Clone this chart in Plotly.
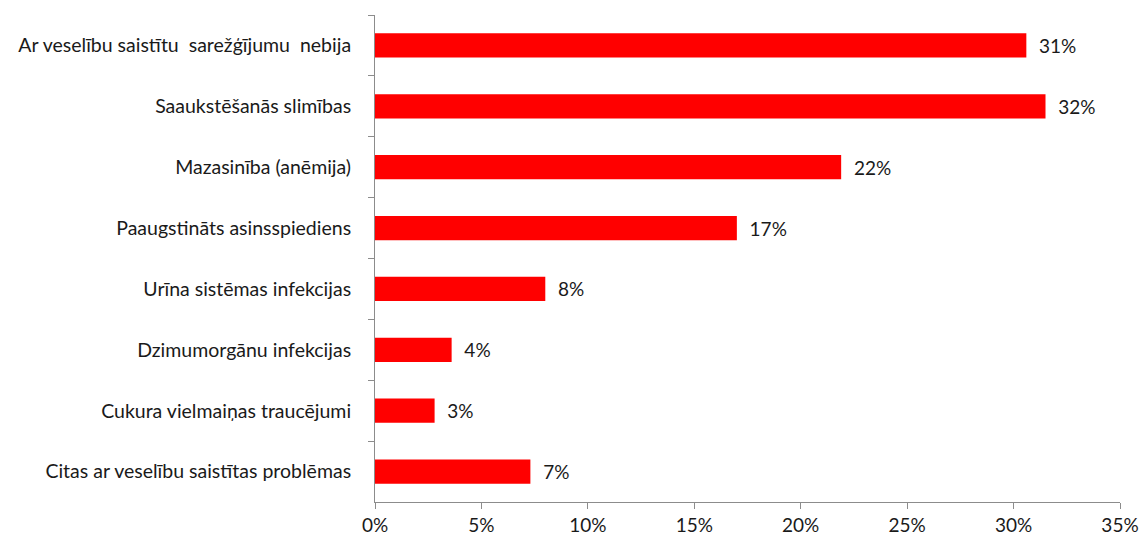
import plotly.graph_objects as go

kategorijas = [
    'Ar veselību saistītu  sarežģījumu  nebija',
    'Saaukstēšanās slimības',
    'Mazasinība (anēmija)',
    'Paaugstināts asinsspiediens',
    'Urīna sistēmas infekcijas',
    'Dzimumorgānu infekcijas',
    'Cukura vielmaiņas traucējumi',
    'Citas ar veselību saistītas problēmas',
]
vertibas = [0.306, 0.315, 0.219, 0.170, 0.080, 0.036, 0.028, 0.073]

x_ticks = [0, 0.05, 0.10, 0.15, 0.20, 0.25, 0.30, 0.35]
x_tick_text = ['0%', '5%', '10%', '15%', '20%', '25%', '30%', '35%']

fonts = dict(family='Lato, Open Sans, sans-serif', size=19, color='#1a1a1a')

# dubultās atstarpes, lai neapvienotos
etiketes = [k.replace('  ', '\u00a0 ') for k in kategorijas]

fig = go.Figure()
fig.add_trace(
    go.Bar(x=vertibas,
           y=etiketes,
           orientation='h',
           marker=dict(color='#ff0000', line=dict(width=0)),
           texttemplate='\u00a0\u00a0%{x:.0%}',
           textposition='outside',
           textfont=fonts,
           cliponaxis=False)
)

fig.update_layout(
    width=1139, height=536,
    plot_bgcolor='white', paper_bgcolor='white',
    bargap=0.6,
    showlegend=False,
    font=fonts,
    margin=dict(l=375, r=19, t=15, b=34, autoexpand=False),
    xaxis=dict(
        range=[0, 0.35],
        tickmode='array',
        tickvals=x_ticks,
        ticktext=x_tick_text,
        showgrid=False,
        zeroline=False,
        showline=True,
        linecolor='#8c8c8c',
        linewidth=1,
        ticks='outside',
        ticklen=6,
        tickcolor='#8c8c8c',
        automargin=False,
    ),
    yaxis=dict(
        autorange='reversed',
        showgrid=False,
        showline=True,
        linecolor='#8c8c8c',
        linewidth=1,
        ticks='outside',
        tickson='boundaries',
        ticklen=6,
        tickcolor='#8c8c8c',
        ticklabelstandoff=19,
        tickfont=dict(size=19.5),
        automargin=False,
    ),
)

fig.write_html('out.html', config={'displayModeBar': False},
               post_script="document.body.style.margin='0px';")
